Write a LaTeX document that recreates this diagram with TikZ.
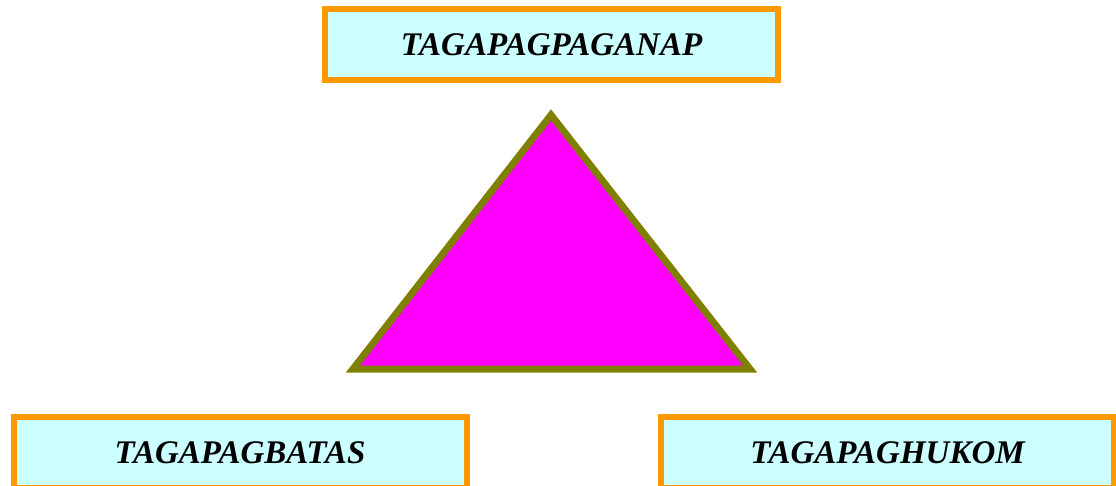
\documentclass[tikz,border=0pt]{standalone}
\usepackage{xcolor}
\usepackage{fontspec}
\setmainfont{Liberation Serif}
\usepackage{tikz}
\usetikzlibrary{positioning}

\definecolor{boxfill}{HTML}{CCFFFF}
\definecolor{boxline}{HTML}{FF9900}
\definecolor{trifill}{HTML}{FF00FF}
\definecolor{triline}{HTML}{808000}

\begin{document}
\begin{tikzpicture}[
  x=1pt, y=-1pt,
  box/.style={draw=boxline, fill=boxfill, line width=6pt, minimum width=453pt, minimum height=71pt, inner sep=0pt, align=center, font=\fontsize{33}{40}\selectfont\bfseries\itshape},
  tri/.style={draw=triline, fill=trifill, line width=7pt, line join=miter}
]
\useasboundingbox (0,0) rectangle (1116,486);
\clip (0,0) rectangle (1116,486);

\node[box] (exec) at (551.5,44.5) {TAGAPAGPAGANAP};
\node[box] (legis) at (240,452.5) {TAGAPAGBATAS};
\node[box] (judic) at (887.5,452.5) {TAGAPAGHUKOM};

\coordinate (apex) at (551,115);
\coordinate (baseL) at (353,369);
\coordinate (baseR) at (750,369);
\draw[tri] (apex) -- (baseL) -- (baseR) -- cycle;
\end{tikzpicture}
\end{document}
